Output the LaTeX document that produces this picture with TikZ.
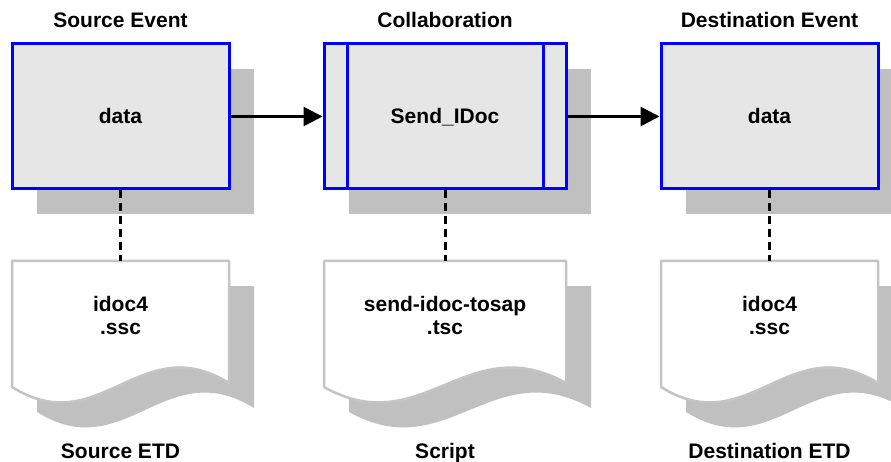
\documentclass[tikz,border=0pt]{standalone}
\usepackage{fontspec}
\setmainfont{Liberation Sans}
\usetikzlibrary{arrows.meta,shadows}
\definecolor{shadowc}{RGB}{192,192,192}
\definecolor{boxfill}{RGB}{230,230,230}
\definecolor{docline}{RGB}{196,196,196}
\begin{document}
\begin{tikzpicture}[x=1pt,y=-1pt,
  txt/.style={font=\fontsize{21}{23}\selectfont\bfseries, inner sep=0pt},
  evbox/.style={draw=blue, line width=3pt, fill=boxfill, minimum height=145pt,
    inner sep=0pt, txt,
    drop shadow={shadow xshift=25pt, shadow yshift=-25pt, opacity=1, fill=shadowc}},
  conn/.style={draw=black, line width=3pt, dash pattern=on 8pt off 5pt},
  arr/.style={draw=black, line width=2.6pt, -{Triangle[length=19pt,width=19pt]}},
  innerline/.style={draw=blue, line width=3pt},
  docshadow/.style={fill=shadowc},
  docbody/.style={draw=docline, line width=2.5pt, fill=white, line join=round}]
\useasboundingbox (0,0) rectangle (891,462);
\clip (0,0) rectangle (891,462);
\fill[white] (0,0) rectangle (891,462);

% documents
\foreach \L/\W/\n in {12/217/d1, 324/242/d2, 661/217/d3}{
  \fill[docshadow, shift={(25pt,-25pt)}] (\L,261) -- ({\L+\W},261) -- ({\L+\W},383)
     .. controls ({\L+0.59*\W},328) and ({\L+0.405*\W},442) .. (\L,387) -- cycle;
  \draw[docbody] (\L,261) -- ({\L+\W},261) -- ({\L+\W},383)
     .. controls ({\L+0.59*\W},328) and ({\L+0.405*\W},442) .. (\L,387) -- cycle;
  \coordinate (\n) at ({\L+\W/2},261);
}

% event boxes
\node[evbox, minimum width=217pt] (b1) at (120.5,116.5) {};
\node[evbox, minimum width=242pt] (b2) at (445,116.5) {};
\node[evbox, minimum width=217pt] (b3) at (769.5,116.5) {};
\draw[innerline] ([xshift=25pt]b2.north west) -- ([xshift=25pt]b2.south west);
\draw[innerline] ([xshift=-24pt]b2.north east) -- ([xshift=-24pt]b2.south east);

\node[txt, anchor=base] (l1) at (120.5,124) {data};
\node[txt, anchor=base] (l2) at (445,124) {Send\_IDoc};
\node[txt, anchor=base] (l3) at (769.5,124) {data};

% titles
\node[txt, anchor=base] (t1) at (120.5,28) {Source Event};
\node[txt, anchor=base] (t2) at (445,28) {Collaboration};
\node[txt, anchor=base] (t3) at (769.5,28) {Destination Event};

% doc texts
\node[txt, align=center] (x1) at (120.5,315) {idoc4\\.ssc};
\node[txt, align=center] (x2) at (445,315) {send-idoc-tosap\\.tsc};
\node[txt, align=center] (x3) at (769.5,315) {idoc4\\.ssc};

% bottom labels
\node[txt, anchor=base] (s1) at (120.5,458) {Source ETD};
\node[txt, anchor=base] (s2) at (445,458) {Script};
\node[txt, anchor=base] (s3) at (769.5,458) {Destination ETD};

% connectors
\draw[conn] (b1.south) -- (d1);
\draw[conn] (b2.south) -- (d2);
\draw[conn] (b3.south) -- (d3);
\draw[arr] (b1.east) -- (b2.west);
\draw[arr] (b2.east) -- (b3.west);
\end{tikzpicture}
\end{document}
